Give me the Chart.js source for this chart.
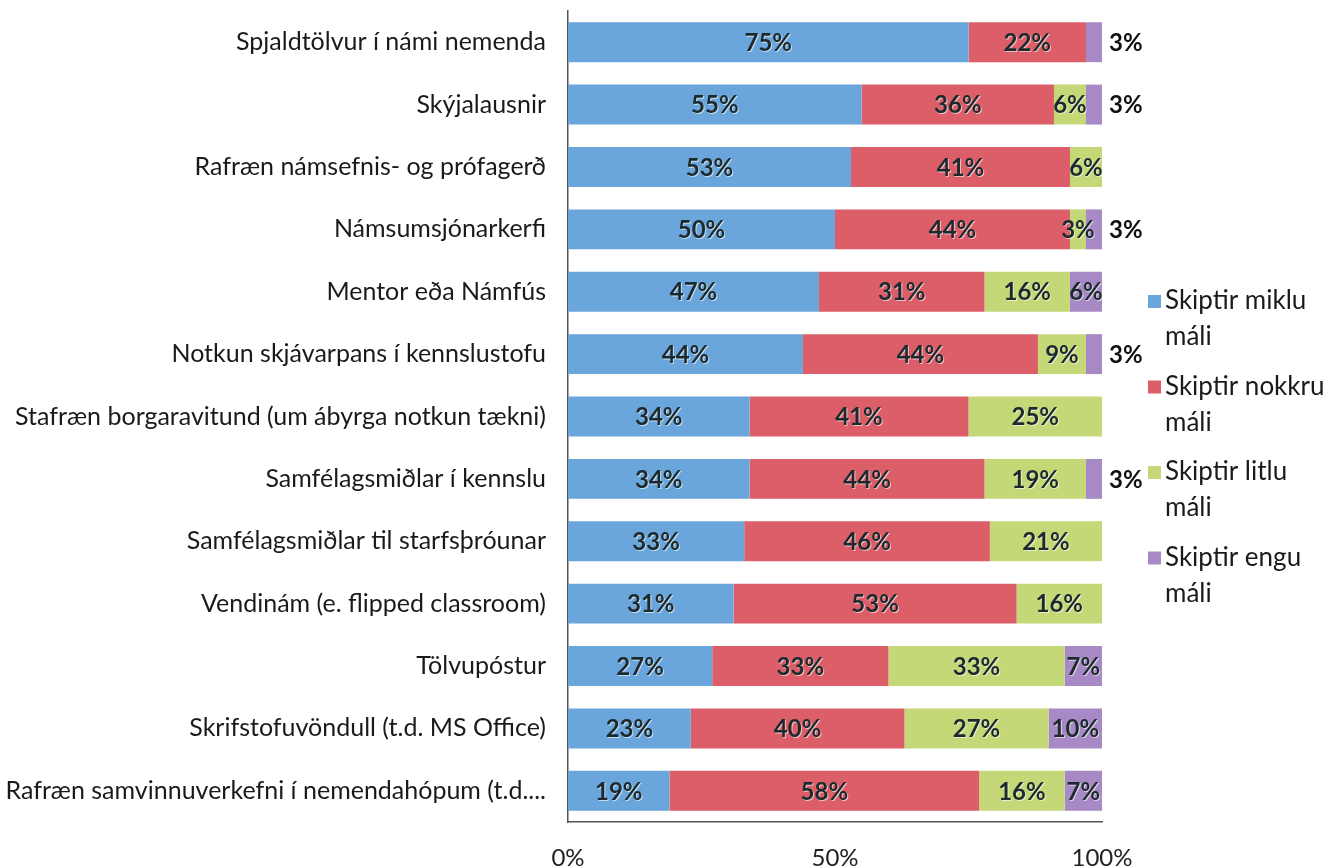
<!DOCTYPE html>
<html>
<head>
<meta charset="utf-8">
<script src="https://cdn.jsdelivr.net/npm/chart.js@4.4.1/dist/chart.umd.min.js"></script>
<style>
  html, body { margin: 0; padding: 0; background: #fff; }
  #wrap { width: 1344px; height: 868px; }
</style>
</head>
<body>
<div id="wrap"><canvas id="myChart"></canvas></div>
<script>
var categories = [
    "Spjaldtölvur í námi nemenda",
    "Skýjalausnir",
    "Rafræn námsefnis- og prófagerð",
    "Námsumsjónarkerfi",
    "Mentor eða Námfús",
    "Notkun skjávarpans í kennslustofu",
    "Stafræn borgaravitund (um ábyrga notkun tækni)",
    "Samfélagsmiðlar í kennslu",
    "Samfélagsmiðlar til starfsþróunar",
    "Vendinám (e. flipped classroom)",
    "Tölvupóstur",
    "Skrifstofuvöndull (t.d. MS Office)",
    "Rafræn samvinnuverkefni í nemendahópum (t.d...."
];

var miklu  = [75, 55, 53, 50, 47, 44, 34, 34, 33, 31, 27, 23, 19];
var nokkru = [22, 36, 41, 44, 31, 44, 41, 44, 46, 53, 33, 40, 58];
var litlu  = [0, 6, 6, 3, 16, 9, 25, 19, 21, 16, 33, 27, 16];
var engu   = [3, 3, 0, 3, 6, 3, 0, 3, 0, 0, 7, 10, 7];

var seriesNames = [["Skiptir miklu", "máli"], ["Skiptir nokkru", "máli"], ["Skiptir litlu", "máli"], ["Skiptir engu", "máli"]];
var xTicks = [0, 50, 100];

var FONT = "Lato, 'Open Sans', sans-serif";

// labels inside the segments, small purple ones go outside the bar
var barLabels = {
    id: "barLabels",
    afterDatasetsDraw: function(chart) {
        var ctx = chart.ctx;
        ctx.save();
        ctx.font = "bold 24px " + FONT;
        ctx.textBaseline = "middle";
        chart.data.datasets.forEach(function(ds, di) {
            var meta = chart.getDatasetMeta(di);
            meta.data.forEach(function(bar, i) {
                var v = ds.data[i];
                if (!v) return;
                var txt = v + "%";
                if (di == 3 && v < 5) {
                    ctx.textAlign = "left";
                    ctx.fillStyle = "#111";
                    ctx.fillText(txt, bar.x + 7, bar.y + 1);
                } else {
                    var cx = (bar.x + bar.base) / 2;
                    ctx.textAlign = "center";
                    ctx.fillStyle = "rgba(255,255,255,0.6)";
                    ctx.fillText(txt, cx + 1, bar.y + 2);
                    ctx.fillStyle = "#1c2a2e";
                    ctx.fillText(txt, cx, bar.y + 1);
                }
            });
        });
        ctx.restore();
    }
};

// legend with wrapped text on the right
var sideLegend = {
    id: "sideLegend",
    afterDraw: function(chart) {
        var ctx = chart.ctx;
        ctx.save();
        ctx.font = "26px " + FONT;
        ctx.textBaseline = "middle";
        ctx.textAlign = "left";
        chart.data.datasets.forEach(function(ds, di) {
            var y = 301 + di * 85.5;
            ctx.fillStyle = ds.backgroundColor;
            ctx.fillRect(1148, y - 6, 13, 13);
            ctx.fillStyle = "#1a1a1a";
            seriesNames[di].forEach(function(line, li) {
                ctx.fillText(line, 1165, y + li * 36);
            });
        });
        ctx.restore();
    }
};

var ctx = document.getElementById("myChart").getContext("2d");

var myChart = new Chart(ctx, {
    type: "bar",
    data: {
        labels: categories,
        datasets: [
            { label: seriesNames[0].join(" "), data: miklu, backgroundColor: "#6aa6dc" },
            { label: seriesNames[1].join(" "), data: nokkru, backgroundColor: "#dc5e69" },
            { label: seriesNames[2].join(" "), data: litlu, backgroundColor: "#c5d877" },
            { label: seriesNames[3].join(" "), data: engu, backgroundColor: "#a78ac5" }
        ]
    },
    options: {
        indexAxis: "y",
        responsive: true,
        maintainAspectRatio: false,
        animation: false,
        categoryPercentage: 1,
        barPercentage: 0.64,
        layout: { padding: { top: 11, right: 242, bottom: 0, left: 0 } },
        plugins: {
            legend: { display: false },
            tooltip: { enabled: false }
        },
        scales: {
            x: {
                stacked: true,
                min: 0,
                max: 100,
                afterBuildTicks: function(scale) {
                    scale.ticks = xTicks.map(function(v) { return { value: v }; });
                },
                afterFit: function(scale) {
                    scale.height = 46;
                    scale.paddingLeft = 0;
                    scale.paddingRight = 0;
                },
                grid: { display: false, drawTicks: false },
                border: { display: true, color: "#555", width: 1.5 },
                ticks: {
                    padding: 22,
                    color: "#222",
                    font: { family: FONT, size: 24 },
                    callback: function(v) { return v + "%"; }
                }
            },
            y: {
                stacked: true,
                afterFit: function(scale) {
                    scale.width = 568;
                    scale.paddingTop = 0;
                    scale.paddingBottom = 0;
                },
                grid: { display: false, drawTicks: false },
                border: { display: true, color: "#555", width: 1.5 },
                ticks: {
                    padding: 22,
                    color: "#1a1a1a",
                    font: { family: FONT, size: 25 }
                }
            }
        }
    },
    plugins: [barLabels, sideLegend]
});
</script>
</body>
</html>
